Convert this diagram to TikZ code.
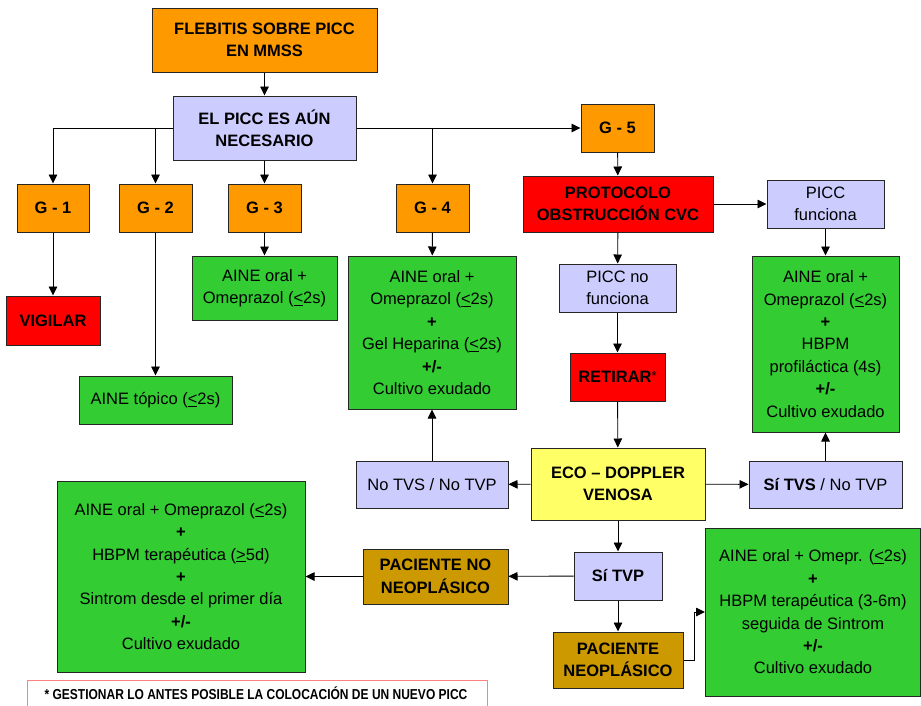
\documentclass[tikz,border=0pt]{standalone}
\usepackage{fontspec}
\setmainfont{Liberation Sans}
\usetikzlibrary{arrows.meta}

\definecolor{cOrange}{HTML}{FF9900}
\definecolor{cLav}{HTML}{CCCCFF}
\definecolor{cRed}{HTML}{FF0000}
\definecolor{cGreen}{HTML}{33CC33}
\definecolor{cYellow}{HTML}{FFFF66}
\definecolor{cGold}{HTML}{CC9900}
\definecolor{cPink}{HTML}{FF8080}

\newcommand{\lte}{\underline{<}}
\newcommand{\gte}{\underline{>}}

\begin{document}
\begin{tikzpicture}[x=1pt,y=-1pt,
  box/.style={draw=black!85, line width=1pt, inner sep=0pt, align=center,
              font=\fontsize{16.5}{22.4}\selectfont},
  ttl/.style={box, font=\fontsize{16.5}{22.4}\selectfont\bfseries},
  orangebox/.style={ttl, fill=cOrange},
  redbox/.style={ttl, fill=cRed},
  lavbox/.style={box, fill=cLav},
  greenbox/.style={box, fill=cGreen},
  goldbox/.style={ttl, fill=cGold},
  yellowbox/.style={ttl, fill=cYellow},
  arr/.style={line width=0.9pt, -{Triangle[length=9pt,width=8.5pt]}},
]
\useasboundingbox (0,0) rectangle (921,705);
\clip (0,0) rectangle (921,705);

% --- top of the tree
\node[orangebox, minimum width=225, minimum height=64] (top) at (264.5,40)
  {FLEBITIS SOBRE PICC\\EN MMSS};
\node[lavbox, font=\fontsize{16.5}{22.4}\selectfont\bfseries,
      minimum width=183, minimum height=64] (picc) at (264.5,128)
  {EL PICC ES AÚN\\NECESARIO};

% --- grades
\node[orangebox, minimum width=72, minimum height=48] (g1) at (53,208) {G - 1};
\node[orangebox, minimum width=73, minimum height=48] (g2) at (155.5,208) {G - 2};
\node[orangebox, minimum width=73, minimum height=48] (g3) at (264.5,208) {G - 3};
\node[orangebox, minimum width=73, minimum height=48] (g4) at (432.5,208) {G - 4};
\node[orangebox, minimum width=73, minimum height=48] (g5) at (617.5,128) {G - 5};

% --- treatments for grades 1-4
\node[redbox, minimum width=94, minimum height=49] (vig) at (53,320.5) {VIGILAR};
\node[greenbox, minimum width=153, minimum height=48] (top2) at (155.5,400)
  {AINE tópico (\lte2s)};
\node[greenbox, minimum width=145, minimum height=64] (g3g) at (264.5,288)
  {AINE oral +\\Omeprazol (\lte2s)};
\node[greenbox, minimum width=168, minimum height=153] (g4g) at (432,332.5)
  {AINE oral +\\Omeprazol (\lte2s)\\\textbf{+}\\Gel Heparina (\lte2s)\\\textbf{+/-}\\Cultivo exudado};

% --- grade 5 branch
\node[redbox, minimum width=190, minimum height=56] (proto) at (618,204)
  {PROTOCOLO\\OBSTRUCCIÓN CVC};
\node[lavbox, minimum width=117, minimum height=48] (func) at (825.5,204)
  {PICC\\funciona};
\node[greenbox, minimum width=147, minimum height=176] (rg) at (825.5,344)
  {AINE oral +\\Omeprazol (\lte2s)\\\textbf{+}\\HBPM\\profiláctica (4s)\\\textbf{+/-}\\Cultivo exudado};
\node[lavbox, minimum width=117, minimum height=48] (nofunc) at (617.5,288)
  {PICC no\\funciona};
\node[redbox, minimum width=95, minimum height=48] (ret) at (617.5,377)
  {RETIRAR{\mdseries\fontsize{13}{14}\selectfont\raisebox{2.5pt}{*}}};
\node[yellowbox, minimum width=174, minimum height=72] (eco) at (618,484)
  {ECO – DOPPLER\\VENOSA};
\node[lavbox, minimum width=152, minimum height=47] (notvs) at (432,484.5)
  {No TVS / No TVP};
\node[lavbox, minimum width=153, minimum height=47] (sitvs) at (825.5,484.5)
  {\textbf{Sí TVS} / No TVP};
\node[lavbox, font=\fontsize{16.5}{22.4}\selectfont\bfseries,
      minimum width=88, minimum height=48] (sitvp) at (618,576) {Sí TVP};
\node[goldbox, minimum width=145, minimum height=55] (pacno) at (435.5,576.5)
  {PACIENTE NO\\NEOPLÁSICO};
\node[goldbox, minimum width=130, minimum height=56] (pacneo) at (618,660)
  {PACIENTE\\NEOPLÁSICO};
\node[greenbox, minimum width=248, minimum height=191] (lg) at (181,576.5)
  {AINE oral + Omeprazol (\lte2s)\\\textbf{+}\\HBPM terapéutica (\gte5d)\\\textbf{+}\\Sintrom desde el primer día\\\textbf{+/-}\\Cultivo exudado};
\node[greenbox, minimum width=215, minimum height=168] (brg) at (813,612)
  {AINE oral + Omepr. (\lte2s)\\\textbf{+}\\HBPM terapéutica (3-6m)\\seguida de Sintrom\\\textbf{+/-}\\Cultivo exudado};

% --- footnote, its frame runs off the lower edge
\node[draw=cPink, line width=1.2pt, minimum width=460, minimum height=50,
      anchor=north west, inner sep=0pt] (footframe) at (27,680) {};
\node[font=\fontsize{12}{14}\selectfont\bfseries, inner sep=0pt] (foot) at (256,693)
  {\scalebox{1}[1.2]{* GESTIONAR LO ANTES POSIBLE LA COLOCACIÓN DE UN NUEVO PICC}};

% --- connectors
\draw[arr] (top) -- (picc);
\draw[arr] (picc.west) -| (g1.north);
\draw[arr] (g2.north |- picc.west) -- (g2.north);
\draw[arr] (picc) -- (g3);
\draw[arr] (picc.east) -- (g5.west);
\draw[arr] (g4.north |- picc.east) -- (g4.north);

\draw[arr] (g1) -- (vig);
\draw[arr] (g2) -- (top2);
\draw[arr] (g3) -- (g3g);
\draw[arr] (g4) -- (g4g);

\draw[arr] (g5) -- (proto);
\draw[arr] (proto) -- (func);
\draw[arr] (func) -- (rg);
\draw[arr] (proto) -- (nofunc);
\draw[arr] (nofunc) -- (ret);
\draw[arr] (ret) -- (eco);
\draw[arr] (eco) -- (notvs);
\draw[arr] (notvs) -- (g4g);
\draw[arr] (eco) -- (sitvs);
\draw[arr] (sitvs) -- (rg);
\draw[arr] (eco) -- (sitvp);
\draw[arr] (sitvp) -- (pacno);
\draw[arr] (pacno) -- (lg);
\draw[arr] (sitvp) -- (pacneo);
\draw[arr] (pacneo.east) -- ++(11,0) |- (brg.west);

\end{tikzpicture}
\end{document}
